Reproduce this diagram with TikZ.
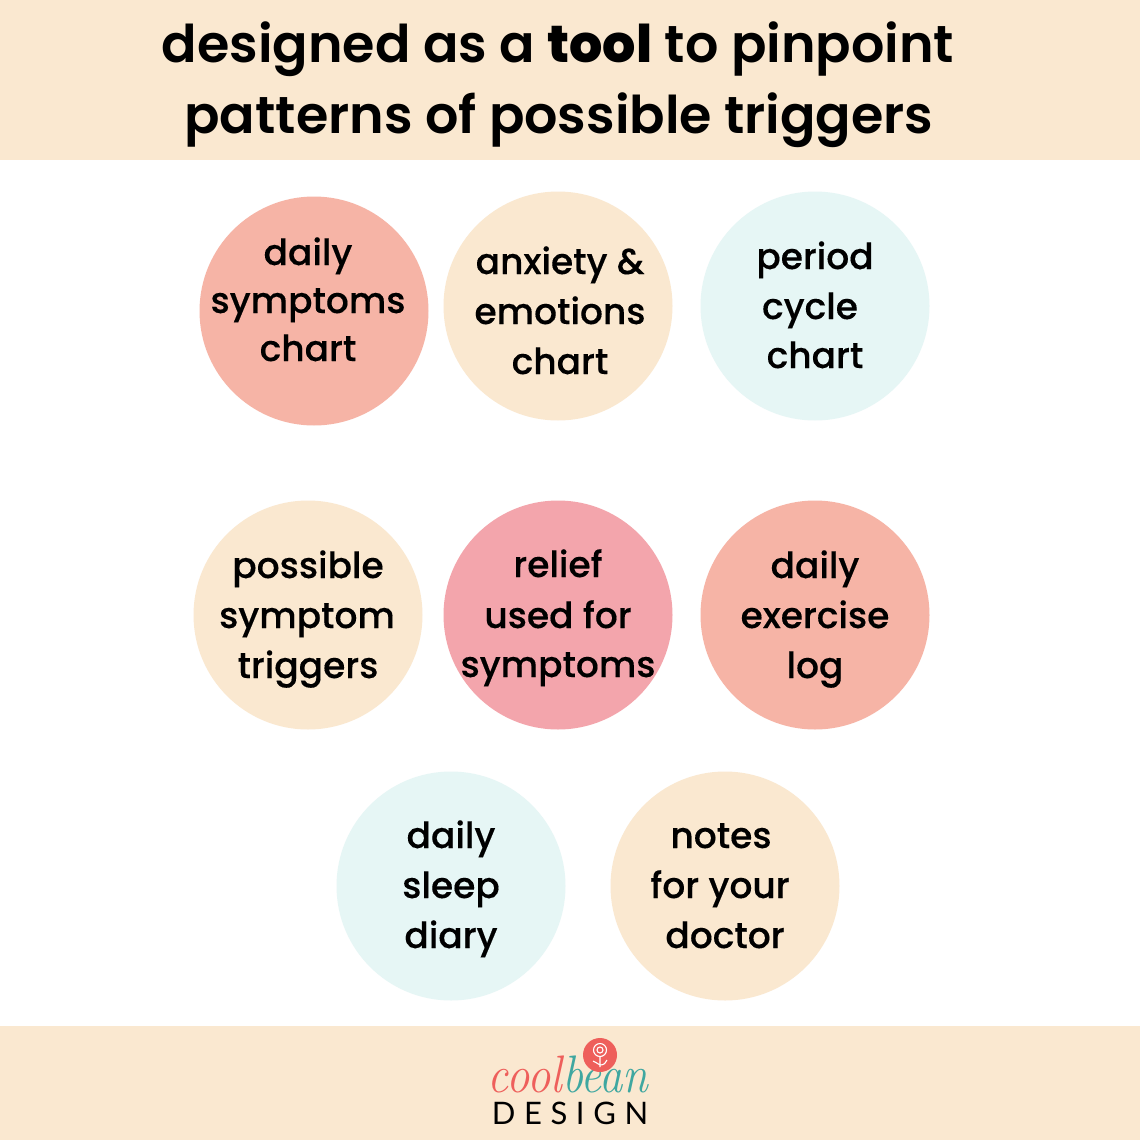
\documentclass[tikz,border=0pt]{standalone}
\usepackage{fontspec}
\setmainfont{Poppins Medium}[FakeBold=0.25,BoldFont=Poppins Bold,BoldFeatures={FakeBold=0}]
\newfontfamily\titlefont{Poppins SemiBold}[BoldFont=Poppins ExtraBold,FakeStretch=1.007]
\newfontfamily\logofont{Lato}
\newfontfamily\coolfont{Latin Modern Roman}
\definecolor{cream}{HTML}{FAE8D0}
\definecolor{salmon}{HTML}{F6B4A6}
\definecolor{mint}{HTML}{E6F6F5}
\definecolor{rosy}{HTML}{F3A5AC}
\definecolor{logored}{HTML}{EE5F5B}
\definecolor{logoteal}{HTML}{3FA7A0}
\tikzset{
 blob/.style={circle,minimum size=229pt,inner sep=0pt},
 lbl/.style={font=\fontsize{36}{36}\selectfont, anchor=base, inner sep=0pt, text=black},
 ttl/.style={font=\titlefont\fontsize{52}{52}\selectfont, anchor=base, inner sep=0pt, text=black},
 petal/.style={draw=white,line width=1.1pt,fill=none},
}
\begin{document}
\begin{tikzpicture}[x=1pt,y=-1pt]
\useasboundingbox (0,0) rectangle (1140,1140);
\fill[white] (0,0) rectangle (1140,1140);
\fill[cream] (0,0) rectangle (1140,160);
\fill[cream] (0,1026) rectangle (1140,1140);
\node[ttl] (t1) at (558,63) {designed as a \textbf{tool} to pinpoint};
\node[ttl] (t2) at (559,133) {patterns of possible triggers};
\node[blob,fill=salmon] (c1) at (314,311) {};
\node[blob,fill=cream] (c2) at (558,306) {};
\node[blob,fill=mint] (c3) at (815,306) {};
\node[blob,fill=cream] (c4) at (308,615) {};
\node[blob,fill=rosy] (c5) at (558,615) {};
\node[blob,fill=salmon] (c6) at (815,615) {};
\node[blob,fill=mint] (c7) at (451,886) {};
\node[blob,fill=cream] (c8) at (725,886) {};
\node[lbl] at (308,265) {daily};
\node[lbl] at (308,313) {symptoms};
\node[lbl] at (308,361) {chart};
\node[lbl] at (560,274) {anxiety \&};
\node[lbl] at (560,324) {emotions};
\node[lbl] at (560,374) {chart};
\node[lbl] at (815,269) {period};
\node[lbl] at (810,319) {cycle};
\node[lbl] at (815,368) {chart};
\node[lbl] at (308,578) {possible};
\node[lbl] at (307,628) {symptom};
\node[lbl] at (308,678) {triggers};
\node[lbl] at (558,577) {relief};
\node[lbl] at (558,628) {used for};
\node[lbl] at (558,677) {symptoms};
\node[lbl] at (815,578) {daily};
\node[lbl] at (815,628) {exercise};
\node[lbl] at (815,678) {log};
\node[lbl] at (451,848) {daily};
\node[lbl] at (451,898) {sleep};
\node[lbl] at (451,948) {diary};
\node[lbl] at (721,848) {notes};
\node[lbl] at (720,898) {for your};
\node[lbl] at (725,948) {doctor};
% logo
\node[anchor=base,inner sep=0pt,xscale=1.06,yscale=1.2,font=\coolfont\itshape\fontsize{44}{44}\selectfont] (script) at (568,1092) {\textcolor{logored}{cool}\textcolor{logoteal}{bean}};
\node[circle,fill=logored,minimum size=34pt,inner sep=0pt] (badge) at (600,1055) {};
\draw[petal] (600,1050) circle (3pt) (600,1050) circle (6.5pt);
\draw[petal] (600,1057) -- (600,1067) (600,1065) .. controls (604,1065) and (606,1063) .. (607,1060) (600,1065) .. controls (597,1063) and (595,1062) .. (593,1061);
\node[anchor=base,inner sep=0pt,font=\logofont\fontsize{31}{31}\selectfont,text=black] (design) at (570,1124) {D\hspace{8.6pt}E\hspace{8.6pt}S\hspace{8.6pt}I\hspace{8.6pt}G\hspace{8.6pt}N};
\end{tikzpicture}
\end{document}
